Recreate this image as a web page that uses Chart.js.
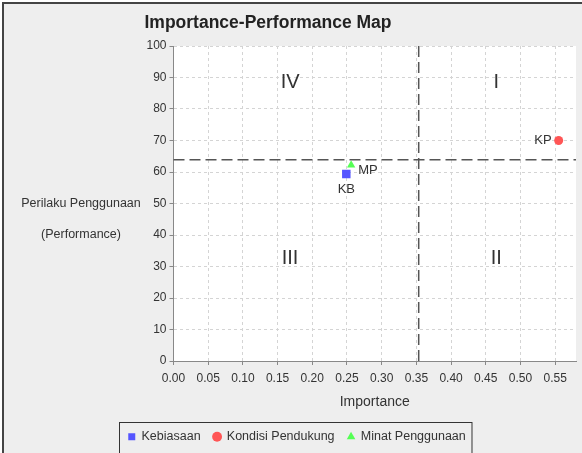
<!DOCTYPE html>
<html lang="id">
<head>
<meta charset="UTF-8">
<title>Importance-Performance Map</title>
<script src="https://cdn.jsdelivr.net/npm/chart.js@4.4.1/dist/chart.umd.min.js"></script>
<style>
  html, body { margin: 0; padding: 0; background: #fff; overflow: hidden; }
  .container { width: 582px; height: 453px; }
</style>
</head>
<body>
<div class="container"><canvas id="ipaChart"></canvas></div>
<script>
// data
var seriesNames = ['Kebiasaan', 'Kondisi Pendukung', 'Minat Penggunaan'];
var seriesCodes = ['KB', 'KP', 'MP'];
var importance = [0.249, 0.555, 0.256];
var performance = [59.4, 70.0, 62.2];
var quadrantNames = ['I', 'II', 'III', 'IV'];
var quadrantImportance = [0.465, 0.465, 0.168, 0.168];
var quadrantPerformance = [88.5, 32.5, 32.5, 88.5];
var xTickStep = 0.05, xMax = 0.58;
var yTickStep = 10, yMax = 100;

// styles
var seriesColors = ['#5555ff', '#ff5555', '#55ff55'];
var seriesShapes = ['rect', 'circle', 'triangle'];
var seriesRadius = [6, 4.5, 4.8];
var labelSide = ['below', 'left', 'right'];
var FONT = "'Liberation Sans', Arial, sans-serif";

Chart.defaults.font.family = FONT;
Chart.defaults.color = '#333';

function mean(arr) {
    return arr.reduce(function (s, v) { return s + v; }, 0) / arr.length;
}

var datasets = seriesNames.map(function (name, i) {
    return {
        label: name,
        data: [{ x: importance[i], y: performance[i] }],
        pointStyle: seriesShapes[i],
        pointRadius: seriesRadius[i],
        pointBackgroundColor: seriesColors[i],
        pointBorderColor: seriesColors[i],
        pointBorderWidth: 0,
        backgroundColor: seriesColors[i],
        borderColor: seriesColors[i]
    };
});

var ipaDecor = {
    id: 'ipaDecor',
    beforeDraw: function (chart) {
        var ctx = chart.ctx, a = chart.chartArea;
        ctx.save();
        ctx.fillStyle = '#ffffff';
        ctx.fillRect(0, 0, chart.width, chart.height);
        ctx.fillStyle = '#eeeeee';
        ctx.fillRect(3, 3, chart.width, chart.height);
        ctx.strokeStyle = '#444';
        ctx.lineWidth = 2;
        ctx.beginPath();
        ctx.moveTo(3, chart.height);
        ctx.lineTo(3, 3);
        ctx.lineTo(chart.width, 3);
        ctx.stroke();
        ctx.fillStyle = '#ffffff';
        ctx.fillRect(a.left, a.top, a.right - a.left, a.bottom - a.top);
        ctx.restore();
    },
    beforeDatasetsDraw: function (chart) {
        var ctx = chart.ctx, a = chart.chartArea;
        var xs = chart.scales.x, ys = chart.scales.y;
        var mx = xs.getPixelForValue(mean(importance));
        var my = ys.getPixelForValue(mean(performance));
        ctx.save();
        ctx.strokeStyle = '#555';
        ctx.lineWidth = 1.5;
        ctx.setLineDash([11, 5]);
        ctx.beginPath();
        ctx.moveTo(mx, a.top);
        ctx.lineTo(mx, a.bottom);
        ctx.moveTo(a.left, my);
        ctx.lineTo(a.right, my);
        ctx.stroke();
        ctx.restore();
    },
    afterDatasetsDraw: function (chart) {
        var ctx = chart.ctx;
        var xs = chart.scales.x, ys = chart.scales.y;
        ctx.save();
        ctx.fillStyle = '#333';
        ctx.font = '20px ' + FONT;
        ctx.textAlign = 'center';
        ctx.textBaseline = 'middle';
        quadrantNames.forEach(function (q, i) {
            ctx.fillText(q, xs.getPixelForValue(quadrantImportance[i]), ys.getPixelForValue(quadrantPerformance[i]));
        });
        ctx.font = '13px ' + FONT;
        seriesCodes.forEach(function (c, i) {
            var px = xs.getPixelForValue(importance[i]);
            var py = ys.getPixelForValue(performance[i]);
            if (labelSide[i] === 'below') {
                ctx.textAlign = 'center';
                ctx.fillText(c, px, py + 16);
            } else if (labelSide[i] === 'left') {
                ctx.textAlign = 'right';
                ctx.fillText(c, px - 7, py);
            } else {
                ctx.textAlign = 'left';
                ctx.fillText(c, px + 7, py + 5);
            }
        });
        ctx.restore();
    },
    afterDraw: function (chart) {
        var ctx = chart.ctx, a = chart.chartArea;
        ctx.save();
        ctx.fillStyle = '#222';
        ctx.textAlign = 'center';
        ctx.textBaseline = 'middle';
        ctx.font = 'bold 17.5px ' + FONT;
        ctx.fillText('Importance-Performance Map', 268, 23);
        ctx.font = '12.5px ' + FONT;
        ctx.fillStyle = '#333';
        var cy = (a.top + a.bottom) / 2;
        ctx.fillText('Perilaku Penggunaan', 81, cy);
        ctx.fillText('(Performance)', 81, cy + 31);
        // frame round the legend
        var hb = chart.legend.legendHitBoxes;
        if (hb && hb.length) {
            var first = hb[0], last = hb[hb.length - 1];
            var left = first.left - 9, right = last.left + last.width + 6;
            var top = first.top + first.height / 2 - 15;
            ctx.strokeStyle = '#333';
            ctx.lineWidth = 1;
            ctx.strokeRect(Math.round(left) + 0.5, Math.round(top) + 0.5, right - left, chart.height - top + 4);
        }
        ctx.restore();
    }
};

new Chart(document.getElementById('ipaChart'), {
    type: 'scatter',
    data: { datasets: datasets },
    plugins: [ipaDecor],
    options: {
        responsive: true,
        maintainAspectRatio: false,
        animation: false,
        layout: { padding: { left: 16, right: 4, top: 46, bottom: 0 } },
        plugins: {
            title: { display: false },
            tooltip: { enabled: false },
            legend: {
                position: 'bottom',
                labels: {
                    usePointStyle: true,
                    boxWidth: 7,
                    boxHeight: 7,
                    padding: 13,
                    color: '#333',
                    font: { size: 12.5 }
                }
            }
        },
        scales: {
            x: {
                type: 'linear',
                min: 0,
                max: xMax,
                title: {
                    display: true,
                    text: 'Importance',
                    color: '#333',
                    font: { size: 14 },
                    padding: { top: 4, bottom: 7 }
                },
                ticks: {
                    stepSize: xTickStep,
                    includeBounds: false,
                    padding: 6,
                    color: '#333',
                    font: { size: 12 },
                    callback: function (v) { return v.toFixed(2); }
                },
                grid: {
                    color: '#d4d4d4',
                    tickLength: 4,
                    tickColor: '#888',
                    tickBorderDash: []
                },
                border: { color: '#888', width: 1, dash: [3, 3] },
                afterFit: function (scale) {
                    scale.height = 453 - 361 - scale.chart.legend.height;
                }
            },
            y: {
                type: 'linear',
                min: 0,
                max: yMax,
                ticks: {
                    stepSize: yTickStep,
                    padding: 3,
                    color: '#333',
                    font: { size: 12 }
                },
                grid: {
                    color: '#d4d4d4',
                    tickLength: 4,
                    tickColor: '#888',
                    tickBorderDash: []
                },
                border: { color: '#888', width: 1, dash: [3, 3] },
                afterFit: function (scale) {
                    scale.width = 157.5;
                }
            }
        }
    }
});
</script>
</body>
</html>
